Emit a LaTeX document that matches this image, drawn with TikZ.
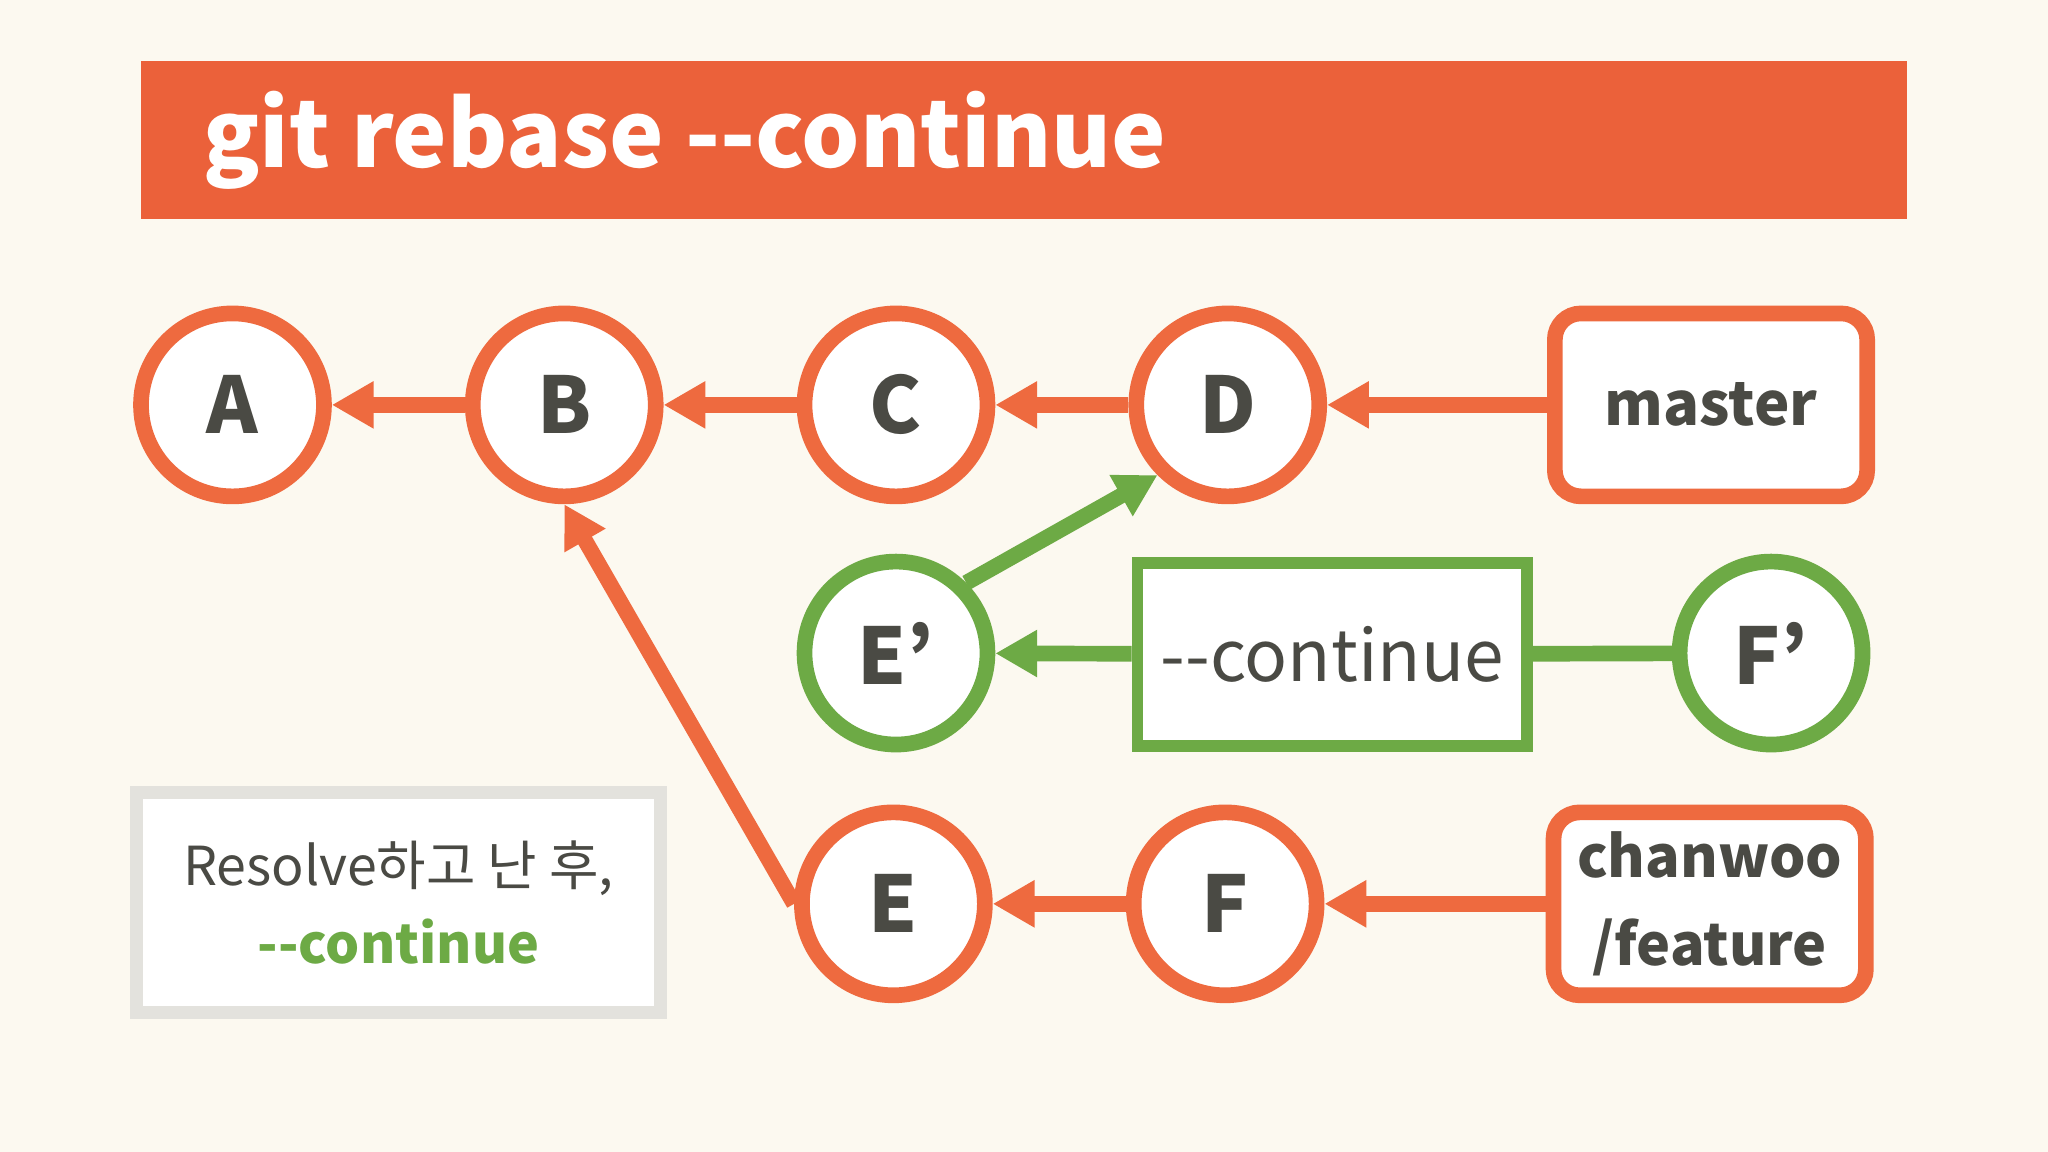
\documentclass[tikz,border=0pt]{standalone}
\usepackage{fontspec}
\setmainfont{Noto Sans CJK KR}
\usetikzlibrary{arrows.meta}
\definecolor{bg}{HTML}{FCF9F0}
\definecolor{org}{HTML}{EE6A3F}
\definecolor{bar}{HTML}{EB613A}
\definecolor{grn}{HTML}{6DAA45}
\definecolor{txt}{HTML}{4A4A44}
\definecolor{gbox}{HTML}{E3E2DD}
\begin{document}
\begin{tikzpicture}[x=0.01cm,y=-0.01cm,
  commit/.style={circle,draw=#1,line width=0.12cm,fill=white,minimum size=1.40cm,inner sep=0pt,font=\fontsize{17}{17}\selectfont\bfseries,text=txt},
  refbox/.style={draw=#1,line width=0.12cm,rounded corners=0.2cm,fill=white,text=txt,align=center,inner sep=0pt},
  link/.style={draw=#1,line width=0.12cm,-{Triangle[length=0.32cm,width=0.34cm]}}]
\fill[bg] (0,0) rectangle (1568,882);
\useasboundingbox (0,0) rectangle (1568,882);
\fill[bar] (108,47) rectangle (1460,168);
\node[anchor=base west,text=white,font=\fontsize{20}{20}\selectfont\bfseries,inner sep=0pt] (title) at (155,128) {git rebase {-}{-}continue};
% commits
\node[commit=org] (A) at (178,310) {A};
\node[commit=org] (B) at (432,310) {B};
\node[commit=org] (C) at (686,310) {C};
\node[commit=org] (D) at (940,310) {D};
\node[commit=grn] (Ep) at (686,500) {E’};
\node[commit=grn] (Fp) at (1356,500) {F’};
\node[commit=org] (E) at (684,692) {E};
\node[commit=org] (F) at (938,692) {F};
% boxes
\node[refbox=org,minimum width=2.39cm,minimum height=1.40cm,font=\fontsize{13}{13}\selectfont\bfseries] (master) at (1310,310) {master};
\node[refbox=org,minimum width=2.39cm,minimum height=1.40cm,font=\fontsize{12.5}{19}\selectfont\bfseries] (feat) at (1309,692) {chanwoo\\/feature};
\node[draw=grn,line width=0.09cm,fill=white,inner sep=0pt,minimum width=2.98cm,minimum height=1.40cm,text=txt,font=\fontsize{15.5}{15.5}\selectfont] (cont) at (1020,501) {{-}{-}continue};
\node[draw=gbox,line width=0.1cm,fill=white,inner sep=0pt,minimum width=4.01cm,minimum height=1.68cm,align=center,text=txt,font=\fontsize{11.7}{17}\selectfont] (note) at (305,691) {Resolve하고 난 후,\\\textcolor{grn}{\bfseries {-}{-}continue}};
% connectors
\draw[link=org] (master) -- (D);
\draw[link=org] (D) -- (C);
\draw[link=org] (C) -- (B);
\draw[link=org] (B) -- (A);
\draw[link=org] (feat) -- (F);
\draw[link=org] (F) -- (E);
\draw[link=org] (E.west) -- (B.south);
\draw[link=grn] (cont) -- (Ep);
\draw[draw=grn,line width=0.12cm] (Fp) -- (cont);
\draw[link=grn] (Ep.north east) -- (D.south west);
\end{tikzpicture}
\end{document}
